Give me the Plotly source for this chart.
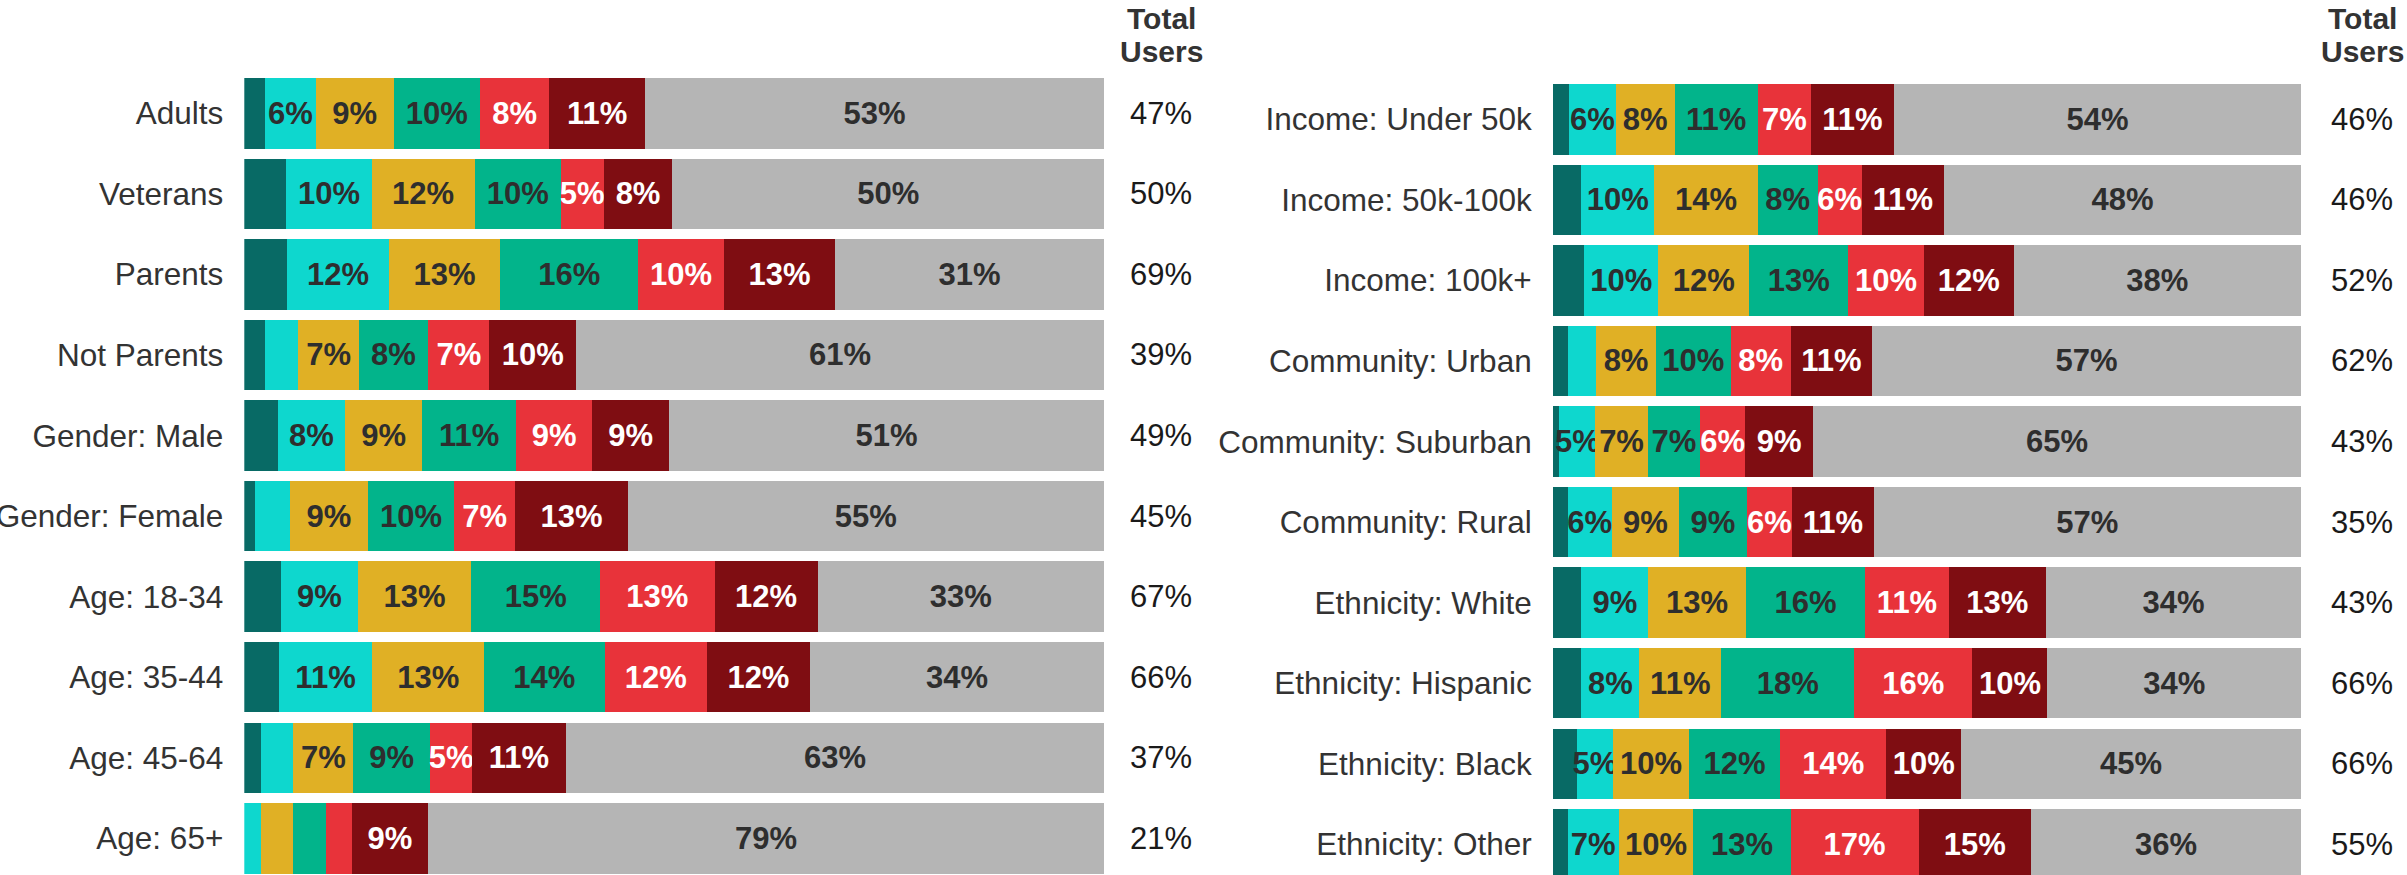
import plotly.graph_objects as go

# ---------------- data ----------------
left_categories = ["Adults", "Veterans", "Parents", "Not Parents", "Gender: Male",
                   "Gender: Female", "Age: 18-34", "Age: 35-44", "Age: 45-64", "Age: 65+"]
right_categories = ["Income: Under 50k", "Income: 50k-100k", "Income: 100k+",
                    "Community: Urban", "Community: Suburban", "Community: Rural",
                    "Ethnicity: White", "Ethnicity: Hispanic", "Ethnicity: Black",
                    "Ethnicity: Other"]

# segment shares (percent) in stacking order, left panel
left_seg1 = [2.4, 4.9, 5.0, 2.4, 3.9, 1.2, 4.3, 4.0, 2.0, 0.0]
left_seg2 = [5.9, 9.9, 11.8, 3.9, 7.8, 4.1, 8.9, 10.9, 3.7, 1.9]
left_seg3 = [9.1, 12.0, 13.0, 7.0, 9.0, 9.1, 13.2, 13.0, 7.0, 3.8]
left_seg4 = [10.0, 10.0, 16.0, 8.1, 10.9, 10.0, 15.0, 14.0, 8.9, 3.8]
left_seg5 = [8.1, 5.0, 10.0, 7.1, 8.9, 7.1, 13.3, 11.9, 4.9, 3.0]
left_seg6 = [11.1, 8.0, 12.9, 10.1, 8.9, 13.1, 12.0, 12.0, 10.9, 8.9]
left_rest = [53.4, 50.2, 31.3, 61.4, 50.6, 55.4, 33.3, 34.2, 62.6, 78.6]
left_total = [47, 50, 69, 39, 49, 45, 67, 66, 37, 21]

# right panel
right_seg1 = [2.2, 3.8, 4.2, 2.0, 0.9, 2.0, 3.8, 3.8, 3.2, 2.0]
right_seg2 = [6.2, 9.8, 9.9, 3.8, 4.8, 5.9, 9.0, 7.8, 4.9, 6.8]
right_seg3 = [7.9, 13.8, 12.2, 8.0, 7.0, 9.0, 13.0, 10.9, 10.1, 10.0]
right_seg4 = [11.1, 8.0, 13.2, 10.0, 7.0, 9.0, 16.0, 17.8, 12.2, 13.0]
right_seg5 = [7.1, 5.9, 10.1, 8.0, 6.0, 6.1, 11.1, 15.8, 14.2, 17.1]
right_seg6 = [11.1, 11.0, 12.0, 10.9, 9.1, 10.9, 13.0, 10.0, 10.0, 15.0]
right_rest = [54.4, 47.7, 38.4, 57.3, 65.2, 57.1, 34.1, 33.9, 45.4, 36.1]
right_total = [46, 46, 52, 62, 43, 35, 43, 66, 66, 55]

header_text = ["Total", "Users"]

# ---------------- style ----------------
FONT = "Liberation Sans, Arial, Helvetica, sans-serif"
W, H = 2407, 875
seg_colors = ["#086A65", "#0ED7CE", "#E0B025", "#02B48B", "#E8333A", "#7F0D12", "#B5B5B5"]
txt_colors = ["#2E2E2E", "#2E2E2E", "#2E2E2E", "#2E2E2E", "#FFFFFF", "#FFFFFF", "#2E2E2E"]

fig = go.Figure()


def add_panel(cats, segs, xa, ya):
    for i, vals in enumerate(segs):
        labels = [f"{round(v)}%" if (i > 0 and round(v) >= 5) else "" for v in vals]
        fig.add_trace(go.Bar(
            orientation="h", y=cats, x=vals, xaxis=xa, yaxis=ya,
            marker=dict(color=seg_colors[i], line=dict(width=0)),
            text=labels, textposition="inside", insidetextanchor="middle",
            textangle=0, constraintext="none",
            insidetextfont=dict(family=FONT, size=31, color=txt_colors[i], weight="bold"),
            showlegend=False, hoverinfo="skip",
        ))


add_panel(left_categories,
          [left_seg1, left_seg2, left_seg3, left_seg4, left_seg5, left_seg6, left_rest],
          "x", "y")
add_panel(right_categories,
          [right_seg1, right_seg2, right_seg3, right_seg4, right_seg5, right_seg6, right_rest],
          "x2", "y2")

TOP = 73
PLOT_H = H - TOP
PITCH = 80.56
r_top_px = 79  # right panel starts slightly lower
right_dom_top = 1 - (r_top_px - TOP) / PLOT_H

axis_common = dict(showgrid=False, zeroline=False, showline=False, automargin=False)
fig.update_layout(
    width=W, height=H,
    margin=dict(l=0, r=0, t=TOP, b=0, pad=0),
    barmode="stack", bargap=0.125,
    plot_bgcolor="white", paper_bgcolor="white",
    font=dict(family=FONT, color="#333333"),
    showlegend=False,
    xaxis=dict(domain=[244.3 / W, 1104 / W], range=[0, 100], visible=False, anchor="y", **axis_common),
    xaxis2=dict(domain=[1552.7 / W, 2301 / W], range=[0, 100], visible=False, anchor="y2", **axis_common),
    yaxis=dict(domain=[0, 1], type="category", categoryorder="array", categoryarray=left_categories,
               range=[-0.5 + PLOT_H / PITCH, -0.5], ticks="", ticklabelstandoff=20,
               tickfont=dict(family=FONT, size=31.5, color="#333333"), anchor="x", **axis_common),
    yaxis2=dict(domain=[0, right_dom_top], type="category", categoryorder="array",
                categoryarray=right_categories,
                range=[-0.5 + (H - r_top_px) / PITCH, -0.5], ticks="", ticklabelstandoff=20,
                tickfont=dict(family=FONT, size=31.5, color="#333333"), anchor="x2", **axis_common),
)

annotations = []
for cats, totals, xc, yref in [(left_categories, left_total, 1161 / W, "y"),
                               (right_categories, right_total, 2362 / W, "y2")]:
    for c, t in zip(cats, totals):
        annotations.append(dict(x=xc, xref="paper", y=c, yref=yref, text=f"{t}%",
                                showarrow=False, xanchor="center", yanchor="middle",
                                font=dict(family=FONT, size=31, color="#1A1A1A")))
    for line, ypx in zip(header_text, [18.8, 51]):
        annotations.append(dict(x=xc, xref="paper", y=(H - ypx) / PLOT_H, yref="paper",
                                text=f"<b>{line}</b>", showarrow=False,
                                xanchor="center", yanchor="middle",
                                font=dict(family=FONT, size=30, color="#333333")))
fig.update_layout(annotations=annotations)

fig.write_html(
    "out.html",
    config={"displayModeBar": False},
    post_script="document.body.style.margin='0px';document.body.style.overflow='hidden';",
)
